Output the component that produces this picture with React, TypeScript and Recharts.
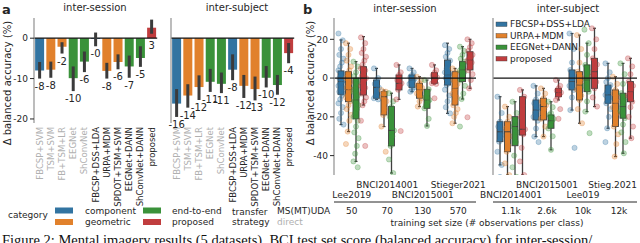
import React from "react";
import {
  ComposedChart,
  Bar,
  Line,
  XAxis,
  YAxis,
  ErrorBar,
  ReferenceLine,
  Cell,
  LabelList,
} from "recharts";

const FONT = "DejaVu Sans, sans-serif";
const SPINE = "#999999";
const INK = "#262626";
const EDGE = "#3f3f3f";
const GREY_TXT = "#b0b0b0";

const catColors: Record<string, string> = {
  component: "#3274a1",
  geometric: "#e1812c",
  "end-to-end": "#3a923a",
  proposed: "#c03d3e",
};

// ---- panel a: pipelines ----
const pipelines = [
  "FBCSP+SVM",
  "TSM+SVM",
  "FB+TSM+LR",
  "EEGNet",
  "ShConvNet",
  "FBCSP+DSS+LDA",
  "URPA+MDM",
  "SPDOT+TSM+SVM",
  "EEGNet+DANN",
  "ShConvNet+DANN",
  "proposed",
];
const pipelineCategory = [
  "component",
  "geometric",
  "geometric",
  "end-to-end",
  "end-to-end",
  "component",
  "geometric",
  "geometric",
  "end-to-end",
  "end-to-end",
  "proposed",
];
const pipelineDirect = [true, true, true, true, true, false, false, false, false, false, false];

const sessionMean = [-8.0, -7.8, -2.1, -9.9, -5.8, -0.2, -8.1, -5.9, -7.0, -4.9, 2.6];
const sessionLow = [-10.0, -9.8, -3.8, -13.1, -8.4, -2.0, -10.0, -7.7, -9.8, -7.1, 1.1];
const sessionHigh = [-5.9, -5.8, -1.0, -7.0, -3.3, 1.4, -6.1, -4.0, -4.3, -2.0, 4.6];

const subjectMean = [-16.2, -14.2, -12.1, -10.8, -11.3, -7.8, -11.8, -12.6, -9.8, -11.6, -3.7];
const subjectLow = [-19.5, -17.2, -15.3, -13.3, -13.6, -10.4, -14.8, -15.4, -12.2, -14.0, -6.2];
const subjectHigh = [-12.6, -11.4, -9.2, -7.6, -8.5, -4.0, -9.1, -9.5, -6.9, -9.1, -1.2];

// ---- panel b: box plots ----
const boxMethods = ["FBCSP+DSS+LDA", "URPA+MDM", "EEGNet+DANN", "proposed"];
const boxColors = ["#3274a1", "#e1812c", "#3a923a", "#c03d3e"];

const sesDatasets = ["Lee2019", "BNCI2014001", "BNCI2015001", "Stieger2021"];
const sesSizes = ["50", "70", "130", "570"];
const subDatasets = ["BNCI2014001", "BNCI2015001", "Lee019", "Stieg.2021"];
const subSizes = ["1.1k", "2.6k", "10k", "12k"];

// [whisker low, q1, median, q3, whisker high] per dataset
const sesFbcspDss = [[-24, -8.4, -1.8, 3.7, 19.7], [-11, -10.4, -4.8, -1, 5], [-7, -4.8, -1, 1.6, 5], [-18.2, -3.6, 1.6, 9.3, 18]];
const sesUrpa = [[-27.6, -12.2, -6, 3.3, 18], [-25, -19, -9.6, -7, -6.2], [-14.7, -10.4, -6, -2.7, 0.7], [-23.3, -13.9, -5.3, 3.3, 5]];
const sesEegnetDann = [[-43, -21, -11.3, 0, 8.5], [-49, -35, -27, -14.7, -7.8], [-24.7, -15.6, -11.3, -5.8, -1], [-10.8, -1.8, 4.2, 8.5, 16.2]];
const sesProposed = [[-13.9, -8.7, 0, 5.9, 21.4], [-11, -6.1, -2.7, 1.6, 6.8], [-3, -2.7, 0.4, 2.8, 6.8], [-5.3, 4.2, 9.3, 13.6, 20]];

const subFbcspDss = [[-44.8, -32.8, -27.7, -22.5, -9.6], [-30.2, -21.6, -16.5, -11.3, -4], [-16.5, -6.1, -1.8, 4.2, 23], [-25.9, -13, -8.7, -3.6, 7.6]];
const subUrpa = [[-50, -38, -27.7, -22.5, -14.7], [-30.2, -21.6, -14.7, -10.4, -5.3], [-23.3, -11.3, -3.6, 3.3, 22.2], [-40.5, -25, -13, -6.1, 0.7]];
const subEegnetDann = [[-51, -34.9, -25, -19.9, -12.2], [-37, -25.9, -22, -19, -12.2], [-17.3, -7, -1, 6.8, 18], [-38.8, -20.7, -14.7, -7.8, 7.6]];
const subProposed = [[-50, -29.4, -26.4, -9.6, -6.1], [-11.3, -9.6, -7.5, -5.3, -1], [-14.7, -5.3, 3.3, 10.2, 25.7], [-31, -12.2, -7, -1.8, 10.2]];

// subject scores (dots)
const sesFbcspDssPts = [
  [23, 19.5, 15, 12, 10, 8, 6, 4, 2, 1, 0, -1, -2, -3, -4, -5, -6, -7, -8, -9, -11, -13, -15, -18, -21, -24],
  [5, 0, -1, -3, -5, -6, -9, -10.4, -11],
  [5, 3, 1.6, 0.5, -0.5, -1, -2, -3, -4.8, -6, -7],
  [17, 15, 13, 11, 9, 7, 5, 3, 2, 1, 0, -1, -2, -3.6, -6, -9, -12, -15, -18.2],
];
const sesUrpaPts = [
  [18, 15, 12, 9, 6, 4, 2, 0, -2, -3, -5, -6, -7, -9, -10, -12, -14, -16, -19, -22, -27.6, -34],
  [-6.2, -7, -8, -9.6, -12, -16, -19, -25, -38],
  [0.7, -1, -2.7, -4, -5, -6, -7, -8, -10.4, -12, -14.7],
  [5, 3, 1, -1, -3, -5, -6, -8, -10, -12, -14, -16, -18, -20, -23.3],
];
const sesEegnetDannPts = [
  [8.5, 6, 3, 1, -1, -3, -5, -7, -9, -11, -12, -14, -16, -18, -20, -22, -25, -28, -31, -35, -39, -43, -46],
  [-7.8, -12, -15, -20, -27, -30, -35, -42, -49],
  [-1, -5.8, -8, -10, -11.3, -12, -14, -15.6, -21, -24.7],
  [16.2, 14, 12, 10, 8.5, 7, 5, 4, 3, 1, -1, -4, -8, -10.8, -25],
];
const sesProposedPts = [
  [21, 18, 15, 13, 11, 9, 7, 5, 4, 2, 1, 0, -1, -2, -4, -5, -7, -8, -10, -12, -14, -22, -35],
  [6.8, 3, 1.6, -1, -2.7, -4, -6, -11, -27.3],
  [6.8, 4, 2.8, 1.5, 0.4, -0.5, -2, -2.7, -3, -10.4],
  [20, 18, 16, 14, 12, 11, 10, 9, 8, 6, 4, 2, -1, -5.3, -20.2],
];

const subFbcspDssPts = [
  [-9.6, -18, -22.5, -25, -27.7, -30, -32.8, -38, -44.8, -51],
  [-4, -8, -11, -13, -15, -16.5, -18, -20, -22, -26, -30.2, -33],
  [23, 15, 8, 4.2, 2, 0, -1.8, -4, -6.1, -10, -16.5, -36],
  [7.6, 3, 0, -2, -3.6, -5, -7, -8.7, -10, -12, -13, -16, -20, -25.9, -33],
];
const subUrpaPts = [
  [-14.7, -20, -22.5, -26, -30, -35, -38, -44, -50],
  [-5.3, -8, -10.4, -12, -14, -16, -18, -21, -25, -30.2],
  [22.2, 15, 8, 3.3, 0, -2, -3.6, -6, -9, -11.3, -16, -23.3],
  [0.7, -3, -6.1, -8, -10, -12, -13, -15, -18, -21, -25, -29, -34, -40.5],
];
const subEegnetDannPts = [
  [-12.2, -18, -22, -25, -28, -33, -40, -46, -51],
  [-12.2, -15, -18, -19, -21, -22, -24, -26, -30, -37],
  [25, 18, 12, 6.8, 3, 0, -1, -4, -7, -12, -17.3, -28.4],
  [7.6, 2, -3, -7.8, -10, -12, -14.7, -17, -20.7, -24, -28, -33, -38.8],
];
const subProposedPts = [
  [-6.1, -9.6, -14, -20, -26.4, -29, -36, -43, -50],
  [-1, -4, -5.3, -6.5, -7.5, -8.5, -9.6, -11.3, -16, -21],
  [25.7, 20, 15, 10.2, 7, 5, 3.3, 1, -2, -5.3, -10, -14.7],
  [10.2, 6, 2, -1.8, -4, -6, -7, -9, -12.2, -15, -20, -25, -31],
];

const fmt = (v: number) => {
  const r = Math.round(v);
  return v < 0 && r === 0 ? "-0" : String(r);
};

const PipelineTick = (props: any) => {
  const { x, y, payload } = props;
  const i = pipelines.indexOf(payload.value);
  return (
    <text
      x={x}
      y={y}
      transform={`rotate(-90 ${x} ${y})`}
      textAnchor="end"
      dominantBaseline="central"
      fontSize={8.5}
      fontFamily={FONT}
      fill={pipelineDirect[i] ? GREY_TXT : INK}
    >
      {payload.value}
    </text>
  );
};

const PipelineBars = ({ mean, low, high, width, yAxisWidth, showLabels }: any) => {
  const rows = pipelines.map((name, i) => ({
    name,
    value: mean[i],
    err: [mean[i] - low[i], high[i] - mean[i]],
    labelAt: Math.min(low[i], 0),
  }));
  return (
    <ComposedChart
      width={width}
      height={212}
      data={rows}
      margin={{ top: 18, right: width - yAxisWidth - 123.2, bottom: 0, left: 0 }}
      barCategoryGap="10%"
    >
      <XAxis
        dataKey="name"
        interval={0}
        height={89}
        axisLine={false}
        tickLine={false}
        tickSize={0}
        tickMargin={4}
        tick={<PipelineTick />}
      />
      <YAxis
        type="number"
        domain={[-21, 5]}
        ticks={[-20, -10, 0]}
        allowDataOverflow
        width={yAxisWidth}
        axisLine={{ stroke: SPINE, strokeWidth: 1.3 }}
        tickLine={{ stroke: INK }}
        tickSize={4}
        tickMargin={2}
        tick={showLabels ? { fontSize: 9, fill: INK, fontFamily: FONT } : false}
      />
      <ReferenceLine y={0} stroke="#111" strokeWidth={1.2} />
      <Bar dataKey="value" isAnimationActive={false}>
        {rows.map((r, i) => (
          <Cell key={r.name} fill={catColors[pipelineCategory[i]]} />
        ))}
        <ErrorBar dataKey="err" width={0} strokeWidth={3} stroke="#3b3b3b" direction="y" />
      </Bar>
      <Line
        dataKey="labelAt"
        stroke="none"
        dot={false}
        activeDot={false}
        isAnimationActive={false}
      >
        <LabelList
          dataKey="labelAt"
          content={(p: any) => (
            <text
              x={p.x}
              y={p.y + 7.5}
              textAnchor="middle"
              dominantBaseline="central"
              fontSize={10}
              fontFamily={FONT}
              fill={INK}
            >
              {fmt(mean[p.index])}
            </text>
          )}
        />
      </Line>
    </ComposedChart>
  );
};

const jitter = (i: number) => (((i * 5) % 7) - 3) * 0.85;

const BoxShape = (props: any) => {
  const { x, y, width, height, stat, pts, color } = props;
  const [lo, q1, med, q3, hi] = stat;
  const top = Math.min(y, y + height);
  const bottom = Math.max(y, y + height);
  const px = (v: number) => bottom - ((v - q1) * (bottom - top)) / (q3 - q1);
  const cx = x + width / 2;
  return (
    <g>
      <line x1={cx} x2={cx} y1={px(hi)} y2={top} stroke={EDGE} strokeWidth={1.3} />
      <line x1={cx} x2={cx} y1={bottom} y2={px(lo)} stroke={EDGE} strokeWidth={1.3} />
      <line x1={cx - 1.5} x2={cx + 1.5} y1={px(hi)} y2={px(hi)} stroke={EDGE} strokeWidth={1.2} />
      <line x1={cx - 1.5} x2={cx + 1.5} y1={px(lo)} y2={px(lo)} stroke={EDGE} strokeWidth={1.2} />
      <rect x={x} y={top} width={width} height={bottom - top} fill={color} stroke={EDGE} strokeWidth={0.9} />
      <line x1={x} x2={x + width} y1={px(med)} y2={px(med)} stroke={EDGE} strokeWidth={1} />
      {pts.map((v: number, i: number) => (
        <circle
          key={i}
          cx={cx + jitter(i)}
          cy={px(v)}
          r={2.6}
          fill={color}
          fillOpacity={0.32}
          stroke={color}
          strokeOpacity={0.45}
          strokeWidth={0.6}
        />
      ))}
    </g>
  );
};

const BoxPanel = ({ datasets, sizes, stats, dots, width, yAxisWidth, plotWidth, showLabels }: any) => {
  const rows = datasets.map((name: string, g: number) => {
    const row: any = { name, size: sizes[g] };
    stats.forEach((s: number[][], m: number) => {
      row["m" + m] = [s[g][1], s[g][3]];
    });
    return row;
  });
  return (
    <ComposedChart
      width={width}
      height={222}
      data={rows}
      margin={{ top: 18, right: width - yAxisWidth - plotWidth, bottom: 0, left: 0 }}
      barSize={6}
      barGap={1.5}
    >
      <XAxis
        xAxisId="n"
        dataKey="name"
        interval={0}
        height={27}
        axisLine={false}
        tickLine={false}
        tickSize={0}
        tickMargin={0}
        tick={(p: any) => {
          const i = datasets.indexOf(p.payload.value);
          const half = p.payload.value.length * 2.6;
          const overflow = p.x + half > width - 2;
          return (
            <text
              x={overflow ? width - 3 : p.x}
              y={p.y + (i % 2 === 0 ? 20 : 10)}
              textAnchor={overflow ? "end" : "middle"}
              dominantBaseline="central"
              fontSize={9}
              fontFamily={FONT}
              fill={INK}
            >
              {p.payload.value}
            </text>
          );
        }}
      />
      <XAxis
        xAxisId="s"
        dataKey="size"
        interval={0}
        height={20}
        axisLine={{ stroke: INK, strokeWidth: 1 }}
        tickLine={false}
        tickSize={0}
        tickMargin={6}
        tick={{ fontSize: 9, fill: INK, fontFamily: FONT }}
      />
      <YAxis
        type="number"
        domain={[-50, 31]}
        ticks={[-40, -20, 0, 20]}
        allowDataOverflow
        width={yAxisWidth}
        axisLine={{ stroke: SPINE, strokeWidth: 1.3 }}
        tickLine={{ stroke: INK }}
        tickSize={4}
        tickMargin={2}
        tick={showLabels ? { fontSize: 9, fill: INK, fontFamily: FONT } : false}
      />
      <ReferenceLine xAxisId="n" y={0} stroke="#111" strokeWidth={1.2} />
      {boxMethods.map((m, mi) => (
        <Bar
          key={m}
          xAxisId="n"
          dataKey={"m" + mi}
          fill={boxColors[mi]}
          isAnimationActive={false}
          shape={(p: any) => (
            <BoxShape {...p} stat={stats[mi][p.index]} pts={dots[mi][p.index]} color={boxColors[mi]} />
          )}
        />
      ))}
    </ComposedChart>
  );
};

const Overlay = () => (
  <svg
    width={640}
    height={243}
    style={{ position: "absolute", left: 0, top: 0, pointerEvents: "none" }}
    fontFamily={FONT}
    fill={INK}
  >
    <text x={2} y={14} fontSize={13} fontWeight="bold">a</text>
    <text x={303} y={14} fontSize={13} fontWeight="bold">b</text>
    <text x={95} y={11} fontSize={10} textAnchor="middle">inter-session</text>
    <text x={237} y={11} fontSize={10} textAnchor="middle">inter-subject</text>
    <text x={405} y={12} fontSize={10} textAnchor="middle">inter-session</text>
    <text x={568} y={12} fontSize={10} textAnchor="middle">inter-subject</text>
    <text transform="translate(7 83) rotate(-90)" fontSize={10} textAnchor="middle" dominantBaseline="central">
      Δ balanced accuracy (%)
    </text>
    <text transform="translate(310 83) rotate(-90)" fontSize={10} textAnchor="middle" dominantBaseline="central">
      Δ balanced accuracy (%)
    </text>
    <text x={487} y={223} fontSize={9} textAnchor="middle" dominantBaseline="central">
      training set size (# observations per class)
    </text>

    {/* panel a legend */}
    <g fontSize={9} dominantBaseline="central">
      <text x={8} y={215}>category</text>
      <rect x={55} y={207.5} width={18} height={6} fill={catColors.component} />
      <rect x={55} y={219} width={18} height={6} fill={catColors.geometric} />
      <text x={85} y={210.5}>component</text>
      <text x={85} y={222}>geometric</text>
      <rect x={143} y={207.5} width={18} height={6} fill={catColors["end-to-end"]} />
      <rect x={143} y={219} width={18} height={6} fill={catColors.proposed} />
      <text x={172} y={210.5}>end-to-end</text>
      <text x={172} y={222}>proposed</text>
      <text x={232} y={212}>transfer</text>
      <text x={232} y={221.5}>strategy</text>
      <text x={277} y={210.5}>MS(MT)UDA</text>
      <text x={277} y={222} fill={GREY_TXT}>direct</text>
    </g>

    {/* panel b legend */}
    <g fontSize={9} dominantBaseline="central">
      {boxMethods.map((m, i) => (
        <g key={m}>
          <rect x={496} y={22} width={11} height={4.5} transform={`translate(0 ${i * 11.5})`} fill={boxColors[i]} stroke={EDGE} strokeWidth={0.4} />
          <text x={510} y={24 + i * 11.5}>{m}</text>
        </g>
      ))}
    </g>
  </svg>
);

export default function App() {
  const sesStats = [sesFbcspDss, sesUrpa, sesEegnetDann, sesProposed];
  const sesDots = [sesFbcspDssPts, sesUrpaPts, sesEegnetDannPts, sesProposedPts];
  const subStats = [subFbcspDss, subUrpa, subEegnetDann, subProposed];
  const subDots = [subFbcspDssPts, subUrpaPts, subEegnetDannPts, subProposedPts];
  return (
    <div style={{ position: "relative", width: 640, height: 243, overflow: "hidden", background: "#fff" }}>
      <style>{`body{margin:0}`}</style>
      <div style={{ position: "absolute", left: 0, top: 0 }}>
        <PipelineBars mean={sessionMean} low={sessionLow} high={sessionHigh} width={161} yAxisWidth={34} showLabels />
      </div>
      <div style={{ position: "absolute", left: 150, top: 0 }}>
        <PipelineBars mean={subjectMean} low={subjectLow} high={subjectHigh} width={148} yAxisWidth={21} showLabels={false} />
      </div>
      <div style={{ position: "absolute", left: 300, top: 0 }}>
        <BoxPanel datasets={sesDatasets} sizes={sesSizes} stats={sesStats} dots={sesDots} width={195} yAxisWidth={34} plotWidth={142} showLabels />
      </div>
      <div style={{ position: "absolute", left: 470, top: 0 }}>
        <BoxPanel datasets={subDatasets} sizes={subSizes} stats={subStats} dots={subDots} width={170} yAxisWidth={23} plotWidth={144} showLabels={false} />
      </div>
      <Overlay />
      <div
        style={{
          position: "absolute",
          left: 2,
          top: 232,
          whiteSpace: "nowrap",
          fontFamily: "Liberation Serif, serif",
          fontSize: 14.5,
          color: "#111",
        }}
      >
        Figure 2: Mental imagery results (5 datasets). BCI test set score (balanced accuracy) for inter-session/
      </div>
    </div>
  );
}
